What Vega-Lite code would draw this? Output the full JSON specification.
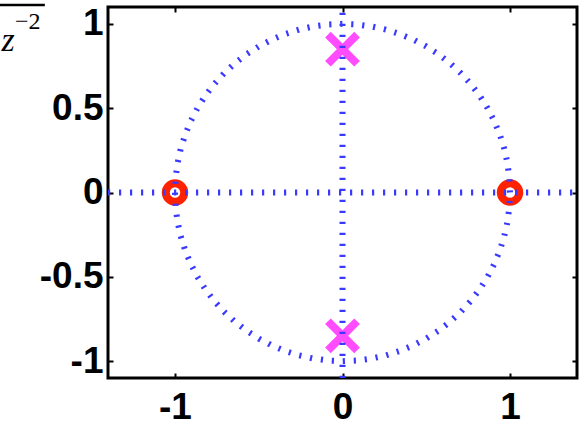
{
  "$schema": "https://vega.github.io/schema/vega-lite/v6.json",
  "width": 469,
  "height": 371,
  "autosize": {"type": "none"},
  "padding": {"left": 108, "top": 7, "right": 8, "bottom": 48},
  "background": "white",
  "config": {
    "view": {"stroke": "black", "strokeWidth": 3},
    "axis": {
      "grid": false,
      "domain": false,
      "title": null,
      "labelFont": "Liberation Sans",
      "labelFontWeight": "bold",
      "labelFontSize": 37,
      "labelColor": "black",
      "labelExpr": "'' + datum.value",
      "tickColor": "black",
      "tickWidth": 2,
      "tickSize": -5
    }
  },
  "datasets": {
    "unit_circle": [
      {"i": 0, "re": 1, "im": 0}, {"i": 1, "re": 0.9962, "im": 0.0872}, {"i": 2, "re": 0.9848, "im": 0.1736},
      {"i": 3, "re": 0.9659, "im": 0.2588}, {"i": 4, "re": 0.9397, "im": 0.342}, {"i": 5, "re": 0.9063, "im": 0.4226},
      {"i": 6, "re": 0.866, "im": 0.5}, {"i": 7, "re": 0.8192, "im": 0.5736}, {"i": 8, "re": 0.766, "im": 0.6428},
      {"i": 9, "re": 0.7071, "im": 0.7071}, {"i": 10, "re": 0.6428, "im": 0.766}, {"i": 11, "re": 0.5736, "im": 0.8192},
      {"i": 12, "re": 0.5, "im": 0.866}, {"i": 13, "re": 0.4226, "im": 0.9063}, {"i": 14, "re": 0.342, "im": 0.9397},
      {"i": 15, "re": 0.2588, "im": 0.9659}, {"i": 16, "re": 0.1736, "im": 0.9848}, {"i": 17, "re": 0.0872, "im": 0.9962},
      {"i": 18, "re": 0, "im": 1}, {"i": 19, "re": -0.0872, "im": 0.9962}, {"i": 20, "re": -0.1736, "im": 0.9848},
      {"i": 21, "re": -0.2588, "im": 0.9659}, {"i": 22, "re": -0.342, "im": 0.9397}, {"i": 23, "re": -0.4226, "im": 0.9063},
      {"i": 24, "re": -0.5, "im": 0.866}, {"i": 25, "re": -0.5736, "im": 0.8192}, {"i": 26, "re": -0.6428, "im": 0.766},
      {"i": 27, "re": -0.7071, "im": 0.7071}, {"i": 28, "re": -0.766, "im": 0.6428}, {"i": 29, "re": -0.8192, "im": 0.5736},
      {"i": 30, "re": -0.866, "im": 0.5}, {"i": 31, "re": -0.9063, "im": 0.4226}, {"i": 32, "re": -0.9397, "im": 0.342},
      {"i": 33, "re": -0.9659, "im": 0.2588}, {"i": 34, "re": -0.9848, "im": 0.1736}, {"i": 35, "re": -0.9962, "im": 0.0872},
      {"i": 36, "re": -1, "im": 0}, {"i": 37, "re": -0.9962, "im": -0.0872}, {"i": 38, "re": -0.9848, "im": -0.1736},
      {"i": 39, "re": -0.9659, "im": -0.2588}, {"i": 40, "re": -0.9397, "im": -0.342}, {"i": 41, "re": -0.9063, "im": -0.4226},
      {"i": 42, "re": -0.866, "im": -0.5}, {"i": 43, "re": -0.8192, "im": -0.5736}, {"i": 44, "re": -0.766, "im": -0.6428},
      {"i": 45, "re": -0.7071, "im": -0.7071}, {"i": 46, "re": -0.6428, "im": -0.766}, {"i": 47, "re": -0.5736, "im": -0.8192},
      {"i": 48, "re": -0.5, "im": -0.866}, {"i": 49, "re": -0.4226, "im": -0.9063}, {"i": 50, "re": -0.342, "im": -0.9397},
      {"i": 51, "re": -0.2588, "im": -0.9659}, {"i": 52, "re": -0.1736, "im": -0.9848}, {"i": 53, "re": -0.0872, "im": -0.9962},
      {"i": 54, "re": 0, "im": -1}, {"i": 55, "re": 0.0872, "im": -0.9962}, {"i": 56, "re": 0.1736, "im": -0.9848},
      {"i": 57, "re": 0.2588, "im": -0.9659}, {"i": 58, "re": 0.342, "im": -0.9397}, {"i": 59, "re": 0.4226, "im": -0.9063},
      {"i": 60, "re": 0.5, "im": -0.866}, {"i": 61, "re": 0.5736, "im": -0.8192}, {"i": 62, "re": 0.6428, "im": -0.766},
      {"i": 63, "re": 0.7071, "im": -0.7071}, {"i": 64, "re": 0.766, "im": -0.6428}, {"i": 65, "re": 0.8192, "im": -0.5736},
      {"i": 66, "re": 0.866, "im": -0.5}, {"i": 67, "re": 0.9063, "im": -0.4226}, {"i": 68, "re": 0.9397, "im": -0.342},
      {"i": 69, "re": 0.9659, "im": -0.2588}, {"i": 70, "re": 0.9848, "im": -0.1736}, {"i": 71, "re": 0.9962, "im": -0.0872},
      {"i": 72, "re": 1, "im": 0}
    ],
    "axis_lines": [
      {"line": "real", "i": 0, "re": -1.4, "im": 0},
      {"line": "real", "i": 1, "re": 1.4, "im": 0},
      {"line": "imag", "i": 0, "re": 0, "im": -1.1},
      {"line": "imag", "i": 1, "re": 0, "im": 1.1}
    ],
    "zeros": [
      {"re": -1, "im": 0},
      {"re": 1, "im": 0}
    ],
    "poles": [
      {"re": 0, "im": 0.85},
      {"re": 0, "im": -0.85}
    ],
    "formula_bar": [
      {"re": -2.1, "re2": -1.777, "im": 1.112}
    ],
    "formula_base": [
      {"re": -2.036, "im": 0.84, "txt": "z"}
    ],
    "formula_exp": [
      {"re": -1.955, "im": 0.97, "txt": "−2"}
    ]
  },
  "resolve": {"axis": {"x": "independent", "y": "independent"}},
  "layer": [
    {
      "data": {"name": "zeros"},
      "mark": {"type": "point", "shape": "circle", "filled": false, "size": 340, "strokeWidth": 8, "color": "#ff2200", "opacity": 1},
      "encoding": {
        "x": {"field": "re", "type": "quantitative", "scale": {"domain": [-1.4, 1.4], "nice": false, "zero": false},
              "axis": {"orient": "bottom", "values": [-1, 0, 1], "labelPadding": 16}},
        "y": {"field": "im", "type": "quantitative", "scale": {"domain": [-1.1, 1.1], "nice": false, "zero": false},
              "axis": {"orient": "left", "values": [-1, -0.5, 0, 0.5, 1], "labelPadding": 10}}
      }
    },
    {
      "data": {"name": "poles"},
      "mark": {"type": "point", "shape": "M-1,-1L1,1M-1,1L1,-1", "filled": false, "size": 850, "strokeWidth": 8, "color": "#ff4cff", "opacity": 1},
      "encoding": {
        "x": {"field": "re", "type": "quantitative", "scale": {"domain": [-1.4, 1.4], "nice": false, "zero": false},
              "axis": {"orient": "top", "values": [-1, 0, 1], "labels": false}},
        "y": {"field": "im", "type": "quantitative", "scale": {"domain": [-1.1, 1.1], "nice": false, "zero": false},
              "axis": {"orient": "right", "values": [-1, -0.5, 0, 0.5, 1], "labels": false}}
      }
    },
    {
      "data": {"name": "unit_circle"},
      "mark": {"type": "line", "color": "#3a3aff", "strokeWidth": 6, "strokeDash": [2.2, 8.8], "strokeCap": "butt"},
      "encoding": {
        "x": {"field": "re", "type": "quantitative", "scale": {"domain": [-1.4, 1.4], "nice": false, "zero": false}, "axis": null},
        "y": {"field": "im", "type": "quantitative", "scale": {"domain": [-1.1, 1.1], "nice": false, "zero": false}, "axis": null},
        "order": {"field": "i", "type": "quantitative"}
      }
    },
    {
      "data": {"name": "axis_lines"},
      "mark": {"type": "line", "color": "#3a3aff", "strokeWidth": 6, "strokeDash": [2.2, 8.8], "strokeCap": "butt"},
      "encoding": {
        "x": {"field": "re", "type": "quantitative", "scale": {"domain": [-1.4, 1.4], "nice": false, "zero": false}, "axis": null},
        "y": {"field": "im", "type": "quantitative", "scale": {"domain": [-1.1, 1.1], "nice": false, "zero": false}, "axis": null},
        "detail": {"field": "line", "type": "nominal"},
        "order": {"field": "i", "type": "quantitative"}
      }
    },
    {
      "data": {"name": "formula_bar"},
      "mark": {"type": "rule", "color": "black", "strokeWidth": 2.5},
      "encoding": {
        "x": {"field": "re", "type": "quantitative", "scale": {"domain": [-1.4, 1.4], "nice": false, "zero": false}, "axis": null},
        "x2": {"field": "re2"},
        "y": {"field": "im", "type": "quantitative", "scale": {"domain": [-1.1, 1.1], "nice": false, "zero": false}, "axis": null}
      }
    },
    {
      "data": {"name": "formula_base"},
      "mark": {"type": "text", "font": "Liberation Serif", "fontStyle": "italic", "fontSize": 34, "align": "left", "baseline": "alphabetic", "color": "black"},
      "encoding": {
        "x": {"field": "re", "type": "quantitative", "scale": {"domain": [-1.4, 1.4], "nice": false, "zero": false}, "axis": null},
        "y": {"field": "im", "type": "quantitative", "scale": {"domain": [-1.1, 1.1], "nice": false, "zero": false}, "axis": null},
        "text": {"field": "txt"}
      }
    },
    {
      "data": {"name": "formula_exp"},
      "mark": {"type": "text", "font": "Liberation Serif", "fontSize": 24, "align": "left", "baseline": "alphabetic", "color": "black"},
      "encoding": {
        "x": {"field": "re", "type": "quantitative", "scale": {"domain": [-1.4, 1.4], "nice": false, "zero": false}, "axis": null},
        "y": {"field": "im", "type": "quantitative", "scale": {"domain": [-1.1, 1.1], "nice": false, "zero": false}, "axis": null},
        "text": {"field": "txt"}
      }
    }
  ]
}
